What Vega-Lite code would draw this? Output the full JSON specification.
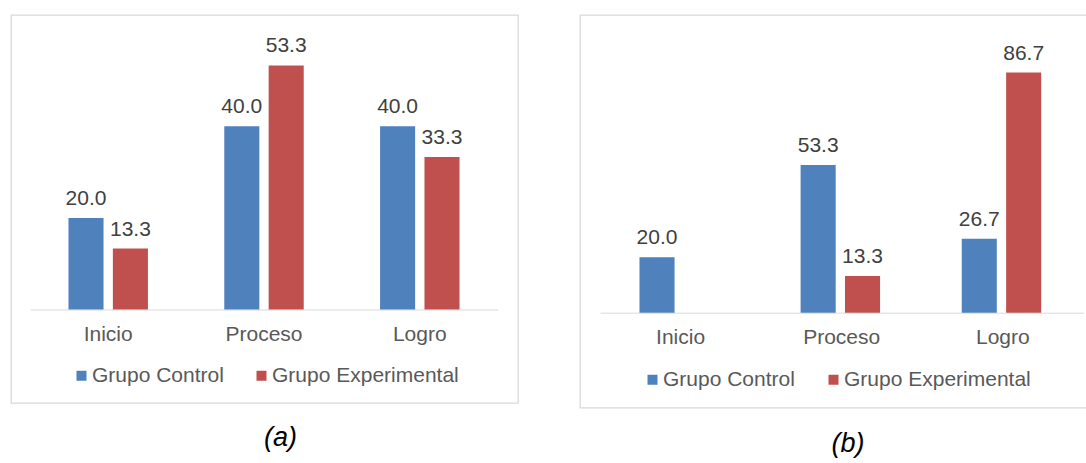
{
  "$schema": "https://vega.github.io/schema/vega-lite/v6.json",
  "padding": {"left": 10, "top": 14, "right": 0, "bottom": 0},
  "background": "white",
  "datasets": {
    "a": [
      {"cat": "Inicio", "grupo": "Grupo Control", "valor": 20.0},
      {"cat": "Inicio", "grupo": "Grupo Experimental", "valor": 13.3},
      {"cat": "Proceso", "grupo": "Grupo Control", "valor": 40.0},
      {"cat": "Proceso", "grupo": "Grupo Experimental", "valor": 53.3},
      {"cat": "Logro", "grupo": "Grupo Control", "valor": 40.0},
      {"cat": "Logro", "grupo": "Grupo Experimental", "valor": 33.3}
    ],
    "b": [
      {"cat": "Inicio", "grupo": "Grupo Control", "valor": 20.0},
      {"cat": "Proceso", "grupo": "Grupo Control", "valor": 53.3},
      {"cat": "Proceso", "grupo": "Grupo Experimental", "valor": 13.3},
      {"cat": "Logro", "grupo": "Grupo Control", "valor": 26.7},
      {"cat": "Logro", "grupo": "Grupo Experimental", "valor": 86.7}
    ]
  },
  "spacing": 60,
  "resolve": {"scale": {"color": "independent"}, "legend": {"color": "independent"}},
  "hconcat": [
    {
      "width": 507,
      "height": 388,
      "data": {"name": "a"},
      "title": {"text": "(a)", "orient": "bottom", "anchor": "middle", "dx": 16, "offset": 22, "font": "Liberation Sans", "fontStyle": "italic", "fontWeight": "normal", "fontSize": 27, "color": "#000000"},
      "encoding": {
        "x": {"field": "cat", "type": "nominal", "sort": ["Inicio", "Proceso", "Logro"],
              "scale": {"range": [19.3, 486.7], "paddingInner": 0.49, "paddingOuter": 0.245},
              "axis": {"title": null, "labelAngle": 0, "ticks": false, "domainColor": "#d9d9d9", "domainWidth": 1, "offset": -93.5, "labelPadding": 13.5, "labelFont": "Liberation Sans", "labelFontSize": 21, "labelColor": "#595959", "grid": false}},
        "xOffset": {"field": "grupo", "type": "nominal", "sort": ["Grupo Control", "Grupo Experimental"], "scale": {"paddingInner": 0.21, "paddingOuter": 0}},
        "y": {"field": "valor", "type": "quantitative", "scale": {"domain": [-20.4, 64.3], "nice": false, "zero": false}, "axis": null}
      },
      "layer": [
        {
          "mark": {"type": "bar"},
          "encoding": {
            "y2": {"datum": 0},
            "color": {"field": "grupo", "type": "nominal", "sort": ["Grupo Control", "Grupo Experimental"],
                      "scale": {"domain": ["Grupo Control", "Grupo Experimental"], "range": ["#4F81BD", "#C0504D"]},
                      "legend": {"orient": "none", "legendX": 60, "legendY": 350, "direction": "horizontal", "title": null, "symbolType": "square", "symbolSize": 100, "symbolStrokeWidth": 0, "labelFont": "Liberation Sans", "labelFontSize": 21, "labelColor": "#595959", "labelOffset": 0, "labelLimit": 0, "columnPadding": 27, "padding": 0}}
          }
        },
        {
          "mark": {"type": "text", "baseline": "alphabetic", "dy": -13, "font": "Liberation Sans", "fontSize": 21, "color": "#404040"},
          "encoding": {"text": {"field": "valor", "type": "quantitative", "format": ".1f"}}
        }
      ]
    },
    {
      "width": 508,
      "height": 392.7,
      "data": {"name": "b"},
      "title": {"text": "(b)", "orient": "bottom", "anchor": "middle", "dx": 14, "offset": 23, "font": "Liberation Sans", "fontStyle": "italic", "fontWeight": "normal", "fontSize": 27, "color": "#000000"},
      "encoding": {
        "x": {"field": "cat", "type": "nominal", "sort": ["Inicio", "Proceso", "Logro"],
              "scale": {"range": [20, 503.4], "paddingInner": 0.49, "paddingOuter": 0.245},
              "axis": {"title": null, "labelAngle": 0, "ticks": false, "domainColor": "#d9d9d9", "domainWidth": 1, "offset": -95, "labelPadding": 14, "labelFont": "Liberation Sans", "labelFontSize": 21, "labelColor": "#595959", "grid": false}},
        "xOffset": {"field": "grupo", "type": "nominal", "sort": ["Grupo Control", "Grupo Experimental"], "scale": {"domain": ["Grupo Control", "Grupo Experimental"], "paddingInner": 0.19, "paddingOuter": 0}},
        "y": {"field": "valor", "type": "quantitative", "scale": {"domain": [-34.3, 107.5], "nice": false, "zero": false}, "axis": null}
      },
      "layer": [
        {
          "mark": {"type": "bar"},
          "encoding": {
            "y2": {"datum": 0},
            "color": {"field": "grupo", "type": "nominal", "sort": ["Grupo Control", "Grupo Experimental"],
                      "scale": {"domain": ["Grupo Control", "Grupo Experimental"], "range": ["#4F81BD", "#C0504D"]},
                      "legend": {"orient": "none", "legendX": 62, "legendY": 354, "direction": "horizontal", "title": null, "symbolType": "square", "symbolSize": 100, "symbolStrokeWidth": 0, "labelFont": "Liberation Sans", "labelFontSize": 21, "labelColor": "#595959", "labelOffset": 0, "labelLimit": 0, "columnPadding": 28, "padding": 0}}
          }
        },
        {
          "mark": {"type": "text", "baseline": "alphabetic", "dy": -13, "font": "Liberation Sans", "fontSize": 21, "color": "#404040"},
          "encoding": {"text": {"field": "valor", "type": "quantitative", "format": ".1f"}}
        }
      ]
    }
  ],
  "config": {
    "view": {"stroke": "#d9d9d9", "strokeWidth": 1.3},
    "bar": {"stroke": null}
  }
}
